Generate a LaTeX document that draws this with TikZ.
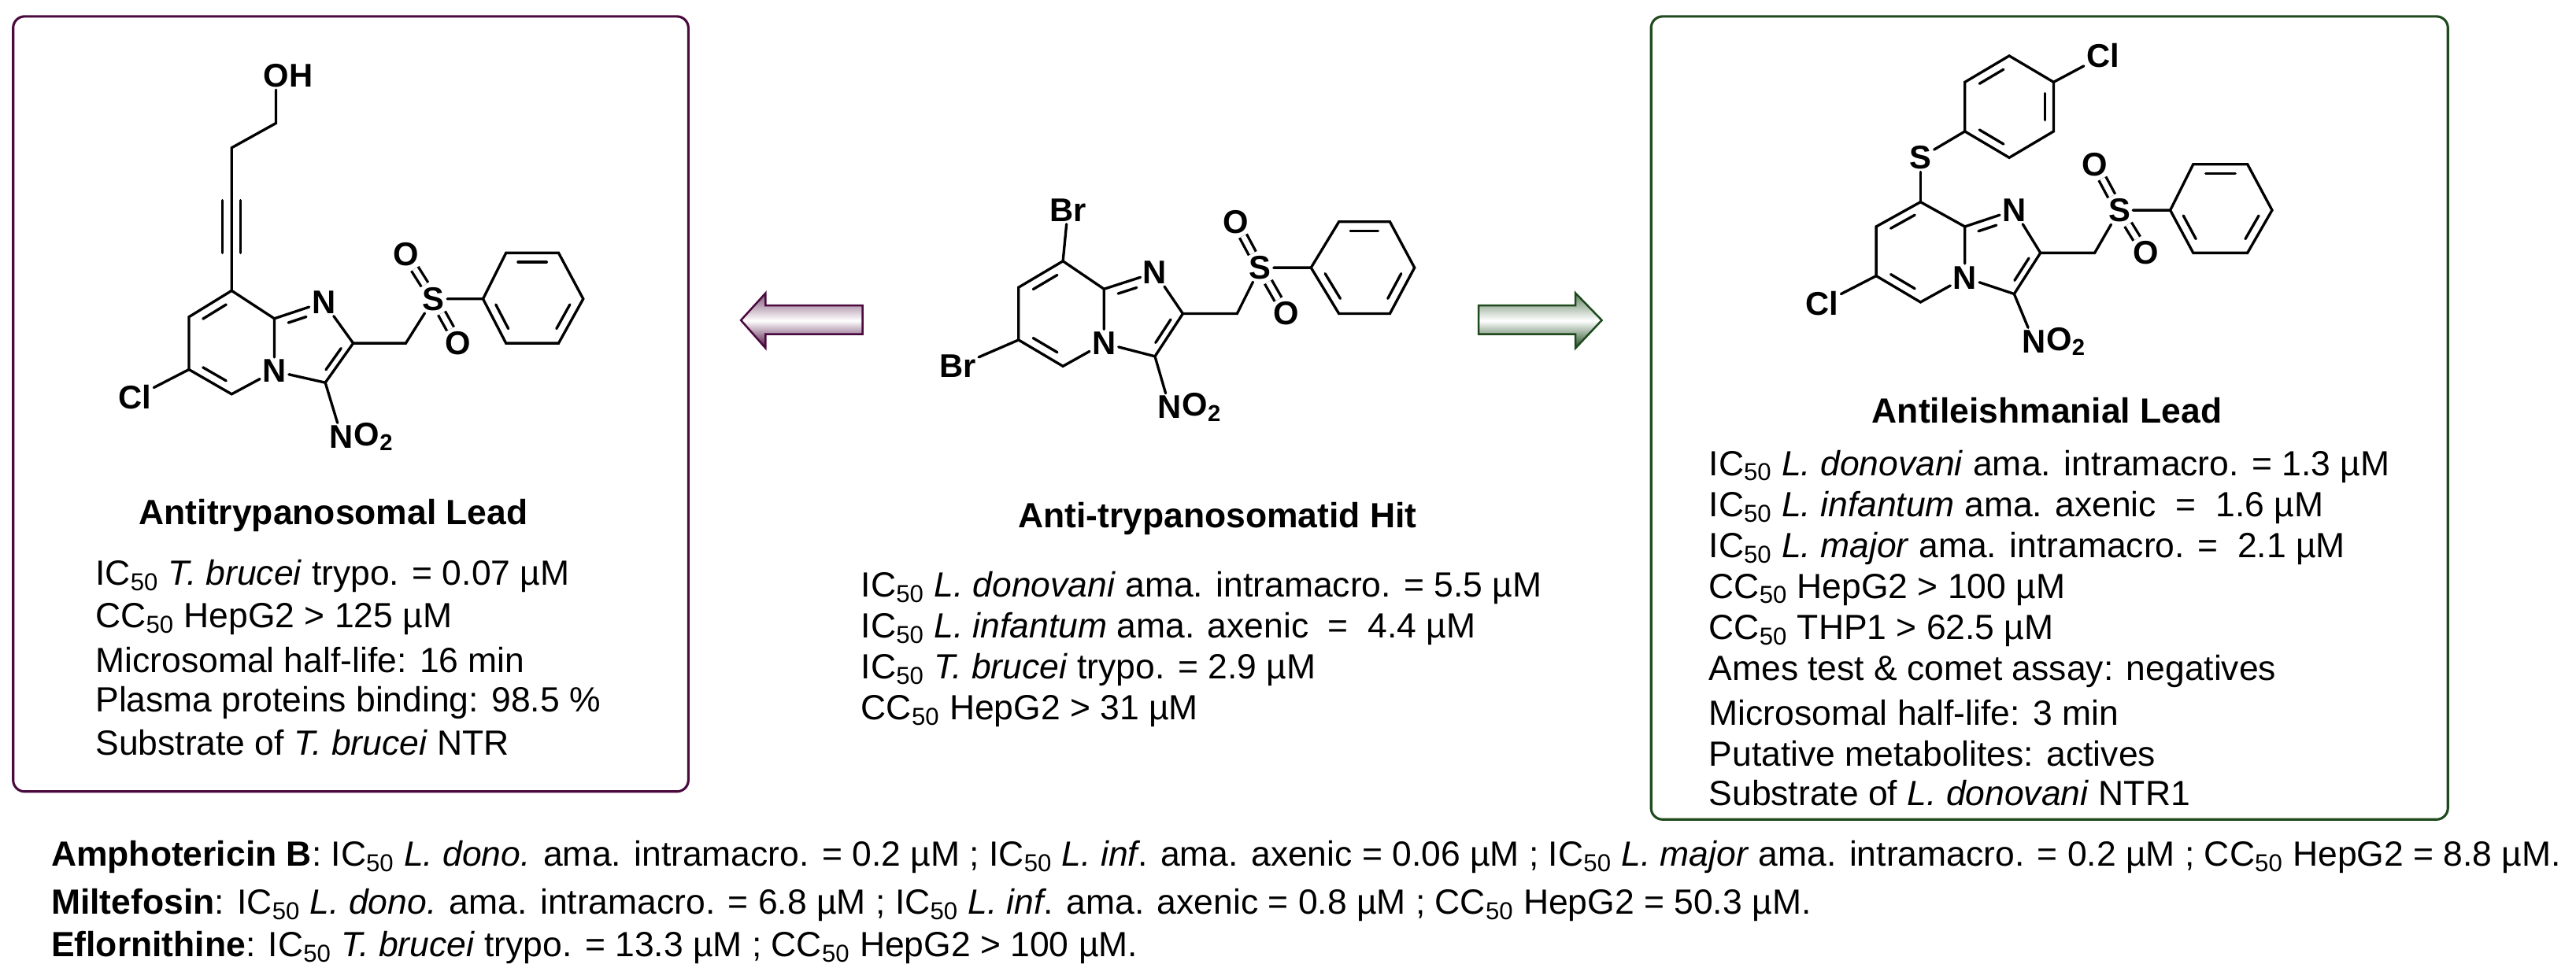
\documentclass[tikz,border=0pt]{standalone}
\usepackage{fontspec}
\setmainfont{Liberation Sans}
\usetikzlibrary{calc}
\definecolor{lpurple}{HTML}{4A0A3E}
\definecolor{lgreen}{HTML}{1E4A1E}
\newcommand\ibond[3]{\draw[bond] ($($(#1)!.16!(#2)$)!.2!(#3)$) -- ($($(#2)!.16!(#1)$)!.2!(#3)$);}
\newcommand\ibondN[3]{\draw[bond] ($($(#1)!.14!(#2)$)!.24!(#3)$) -- ($($(#2)!.38!(#1)$)!.24!(#3)$);}
\newcommand\txt{\fontsize{21.3}{25}\selectfont}
\begin{document}
\begin{tikzpicture}[x=1pt,y=-1pt,
  bond/.style={line width=1.6pt, line cap=round},
  dbond/.style={line width=1.6pt, double, double distance=3.2pt},
  atom/.style={font=\bfseries\fontsize{20}{20}\selectfont, inner sep=1.4pt},
  sub/.style={font=\bfseries\fontsize{20}{20}\selectfont, inner sep=0pt, anchor=west},
  body/.style={font=\txt, anchor=west, inner sep=0pt},
  ttl/.style={font=\bfseries\txt, inner sep=0pt},
  box/.style={line width=1.5pt, rounded corners=7pt}]
\useasboundingbox (0,0) rectangle (1568,596);
% boxes
\draw[box, lpurple] (8,10) rectangle (419,482);
\draw[box, lgreen] (1005,10) rectangle (1490,499);
% arrows
\draw[line width=1.2pt, lpurple, top color=lpurple!70, bottom color=lpurple, middle color=white]
  (451,195) -- (466,178.5) -- (466,186) -- (525,186) -- (525,203.5) -- (466,203.5) -- (466,212) -- cycle;
\draw[line width=1.2pt, lgreen, top color=lgreen!70, bottom color=lgreen, middle color=white]
  (975,195) -- (959,178.5) -- (959,186) -- (900,186) -- (900,203.5) -- (959,203.5) -- (959,212) -- cycle;

% ===== left molecule =====
\begin{scope}
\node[atom] (LO) at (168,46) {O};
\node[sub] at ([xshift=-1.4pt]LO.east) {H};
\coordinate (La) at (168,75); \coordinate (Lb) at (141,90);
\coordinate (Lt1) at (141,122); \coordinate (Lt2) at (141,154);
\coordinate (L8) at (141,177); \coordinate (L7) at (115,193); \coordinate (L6) at (115,225);
\coordinate (L5) at (141,240); \node[atom] (L4) at (167,226) {N};
\coordinate (L8a) at (167,194); \node[atom] (L1) at (197,184) {N};
\coordinate (L2) at (215,209); \coordinate (L3) at (198,233);
\node[atom] (LN) at (208,266) {N}; \node[sub] at ([xshift=-1.4pt]LN.east) {O\textsubscript{2}};
\node[atom] (LCl) at (82,242) {Cl};
\coordinate (Lc) at (247,209); \node[atom] (LS) at (264,182) {S};
\node[atom] (LOt) at (247,155) {O}; \node[atom] (LOb) at (279,209) {O};
\coordinate (Lp1) at (294,182); \coordinate (Lp2) at (308,154); \coordinate (Lp3) at (340,154);
\coordinate (Lp4) at (355,182); \coordinate (Lp5) at (340,209); \coordinate (Lp6) at (308,209);
\coordinate (Lpc) at (324,182); \coordinate (Lrc) at (141,209); \coordinate (Lic) at (189,209);
\draw[bond] (LO) -- (La) -- (Lb) -- (L8);
\draw[bond] ([xshift=-5.5pt]Lt1) -- ([xshift=-5.5pt]Lt2);
\draw[bond] ([xshift=5.5pt]Lt1) -- ([xshift=5.5pt]Lt2);
\draw[bond] (L8) -- (L7) -- (L6) -- (L5) -- (L4) -- (L8a) -- (L8);
\draw[bond] (L8a) -- (L1) -- (L2) -- (L3) -- (L4);
\draw[bond] (L3) -- (LN); \draw[bond] (L6) -- (LCl);
\draw[bond] (L2) -- (Lc) -- (LS) -- (Lp1);
\draw[dbond] (LS) -- (LOt); \draw[dbond] (LS) -- (LOb);
\draw[bond] (Lp1) -- (Lp2) -- (Lp3) -- (Lp4) -- (Lp5) -- (Lp6) -- cycle;
\ibond{L8}{L7}{Lrc} \ibond{L6}{L5}{Lrc} \ibondN{L8a}{L1}{Lic} \ibond{L2}{L3}{Lic}
\ibond{Lp2}{Lp3}{Lpc} \ibond{Lp1}{Lp6}{Lpc} \ibond{Lp4}{Lp5}{Lpc}
\end{scope}

% ===== middle molecule =====
\begin{scope}
\node[atom] (MBr) at (650,128) {Br};
\coordinate (M8) at (647,159); \coordinate (M7) at (620,175); \coordinate (M6) at (620,207);
\coordinate (M5) at (647,223); \node[atom] (M4) at (672,209) {N};
\coordinate (M8a) at (672,176); \node[atom] (M1) at (703,166) {N};
\coordinate (M2) at (720,191); \coordinate (M3) at (703,217);
\node[atom] (MN) at (712,248) {N}; \node[sub] at ([xshift=-1.4pt]MN.east) {O\textsubscript{2}};
\node[atom] (MBl) at (583,223) {Br};
\coordinate (Mc) at (753,191); \node[atom] (MS) at (767,163) {S};
\node[atom] (MOt) at (752,135) {O}; \node[atom] (MOb) at (783,191) {O};
\coordinate (Mp1) at (798,163); \coordinate (Mp2) at (815,135); \coordinate (Mp3) at (846,135);
\coordinate (Mp4) at (861,163); \coordinate (Mp5) at (846,191); \coordinate (Mp6) at (815,191);
\coordinate (Mpc) at (830,163); \coordinate (Mrc) at (647,191); \coordinate (Mic) at (694,192);
\draw[bond] (MBr) -- (M8);
\draw[bond] (M8) -- (M7) -- (M6) -- (M5) -- (M4) -- (M8a) -- (M8);
\draw[bond] (M8a) -- (M1) -- (M2) -- (M3) -- (M4);
\draw[bond] (M3) -- (MN); \draw[bond] (M6) -- (MBl);
\draw[bond] (M2) -- (Mc) -- (MS) -- (Mp1);
\draw[dbond] (MS) -- (MOt); \draw[dbond] (MS) -- (MOb);
\draw[bond] (Mp1) -- (Mp2) -- (Mp3) -- (Mp4) -- (Mp5) -- (Mp6) -- cycle;
\ibond{M8}{M7}{Mrc} \ibond{M6}{M5}{Mrc} \ibondN{M8a}{M1}{Mic} \ibond{M2}{M3}{Mic}
\ibond{Mp2}{Mp3}{Mpc} \ibond{Mp1}{Mp6}{Mpc} \ibond{Mp4}{Mp5}{Mpc}
\end{scope}

% ===== right molecule =====
\begin{scope}
\node[atom] (RCt) at (1280,34) {Cl};
\coordinate (Ra1) at (1223,34); \coordinate (Ra2) at (1250,50); \coordinate (Ra3) at (1250,80);
\coordinate (Ra4) at (1223,96); \coordinate (Ra5) at (1196,80); \coordinate (Ra6) at (1196,50);
\coordinate (Rac) at (1223,65);
\node[atom] (RSt) at (1169,96) {S};
\coordinate (R8) at (1169,123); \coordinate (R7) at (1142,138); \coordinate (R6) at (1142,168);
\coordinate (R5) at (1169,184); \node[atom] (R4) at (1196,169) {N};
\coordinate (R8a) at (1196,138); \node[atom] (R1) at (1226,128) {N};
\coordinate (R2) at (1242,154); \coordinate (R3) at (1226,179);
\node[atom] (RN) at (1238,208) {N}; \node[sub] at ([xshift=-1.4pt]RN.east) {O\textsubscript{2}};
\node[atom] (RCl) at (1109,185) {Cl};
\coordinate (Rc) at (1275,154); \node[atom] (RS) at (1290,128) {S};
\node[atom] (ROt) at (1275,100) {O}; \node[atom] (ROb) at (1306,154) {O};
\coordinate (Rp1) at (1321,128); \coordinate (Rp2) at (1335,100); \coordinate (Rp3) at (1368,100);
\coordinate (Rp4) at (1383,128); \coordinate (Rp5) at (1368,154); \coordinate (Rp6) at (1335,154);
\coordinate (Rpc) at (1352,128); \coordinate (Rrc) at (1169,153); \coordinate (Ric) at (1217,154);
\draw[bond] (Ra1) -- (Ra2) -- (Ra3) -- (Ra4) -- (Ra5) -- (Ra6) -- cycle;
\draw[bond] (Ra2) -- (RCt); \draw[bond] (RSt) -- (Ra5); \draw[bond] (RSt) -- (R8);
\ibond{Ra6}{Ra1}{Rac} \ibond{Ra2}{Ra3}{Rac} \ibond{Ra4}{Ra5}{Rac}
\draw[bond] (R8) -- (R7) -- (R6) -- (R5) -- (R4) -- (R8a) -- (R8);
\draw[bond] (R8a) -- (R1) -- (R2) -- (R3) -- (R4);
\draw[bond] (R3) -- (RN); \draw[bond] (R6) -- (RCl);
\draw[bond] (R2) -- (Rc) -- (RS) -- (Rp1);
\draw[dbond] (RS) -- (ROt); \draw[dbond] (RS) -- (ROb);
\draw[bond] (Rp1) -- (Rp2) -- (Rp3) -- (Rp4) -- (Rp5) -- (Rp6) -- cycle;
\ibond{R8}{R7}{Rrc} \ibond{R6}{R5}{Rrc} \ibondN{R8a}{R1}{Ric} \ibond{R2}{R3}{Ric}
\ibond{Rp2}{Rp3}{Rpc} \ibond{Rp1}{Rp6}{Rpc} \ibond{Rp4}{Rp5}{Rpc}
\end{scope}

% ===== texts =====
\node[ttl] (t1) at (203,314) {Antitrypanosomal Lead};
\node[body] (l1) at (58,351) {IC\textsubscript{50} \textit{T. brucei} trypo. = 0.07 µM};
\node[body] (l2) at (58,377) {CC\textsubscript{50} HepG2 > 125 µM};
\node[body] (l3) at (58,402) {Microsomal half-life: 16 min};
\node[body] (l4) at (58,428) {Plasma proteins binding: 98.5 \%};
\node[body] (l5) at (58,452) {Substrate of \textit{T. brucei} NTR};

\node[ttl] (t2) at (741,316) {Anti-trypanosomatid Hit};
\node[body] (m1) at (524,358) {IC\textsubscript{50} \textit{L. donovani} ama. intramacro. = 5.5 µM};
\node[body] (m2) at (524,383) {IC\textsubscript{50} \textit{L. infantum} ama. axenic\ \ = \ 4.4 µM};
\node[body] (m3) at (524,408) {IC\textsubscript{50} \textit{T. brucei} trypo. = 2.9 µM};
\node[body] (m4) at (524,433) {CC\textsubscript{50} HepG2 > 31 µM};

\node[ttl] (t3) at (1246,250) {Antileishmanial Lead};
\node[body] (r1) at (1040,284) {IC\textsubscript{50} \textit{L. donovani} ama. intramacro. = 1.3 µM};
\node[body] (r2) at (1040,309) {IC\textsubscript{50} \textit{L. infantum} ama. axenic\ \ = \ 1.6 µM};
\node[body] (r3) at (1040,334) {IC\textsubscript{50} \textit{L. major} ama. intramacro. = \ 2.1 µM};
\node[body] (r4) at (1040,359) {CC\textsubscript{50} HepG2 > 100 µM};
\node[body] (r5) at (1040,384) {CC\textsubscript{50} THP1 > 62.5 µM};
\node[body] (r6) at (1040,409) {Ames test \& comet assay: negatives};
\node[body] (r7) at (1040,434) {Microsomal half-life: 3 min};
\node[body] (r8) at (1040,459) {Putative metabolites: actives};
\node[body] (r9) at (1040,483) {Substrate of \textit{L. donovani} NTR1};

\node[body] (b1) at (31,522) {\textbf{Amphotericin B}: IC\textsubscript{50} \textit{L. dono.} ama. intramacro. = 0.2 µM ; IC\textsubscript{50} \textit{L. inf}. ama. axenic = 0.06 µM ; IC\textsubscript{50} \textit{L. major} ama. intramacro. = 0.2 µM ; CC\textsubscript{50} HepG2 = 8.8 µM.};
\node[body] (b2) at (31,551) {\textbf{Miltefosin}: IC\textsubscript{50} \textit{L. dono.} ama. intramacro. = 6.8 µM ; IC\textsubscript{50} \textit{L. inf}. ama. axenic = 0.8 µM ; CC\textsubscript{50} HepG2 = 50.3 µM.};
\node[body] (b3) at (31,577) {\textbf{Eflornithine}: IC\textsubscript{50} \textit{T. brucei} trypo. = 13.3 µM ; CC\textsubscript{50} HepG2 > 100 µM.};
\end{tikzpicture}
\end{document}
